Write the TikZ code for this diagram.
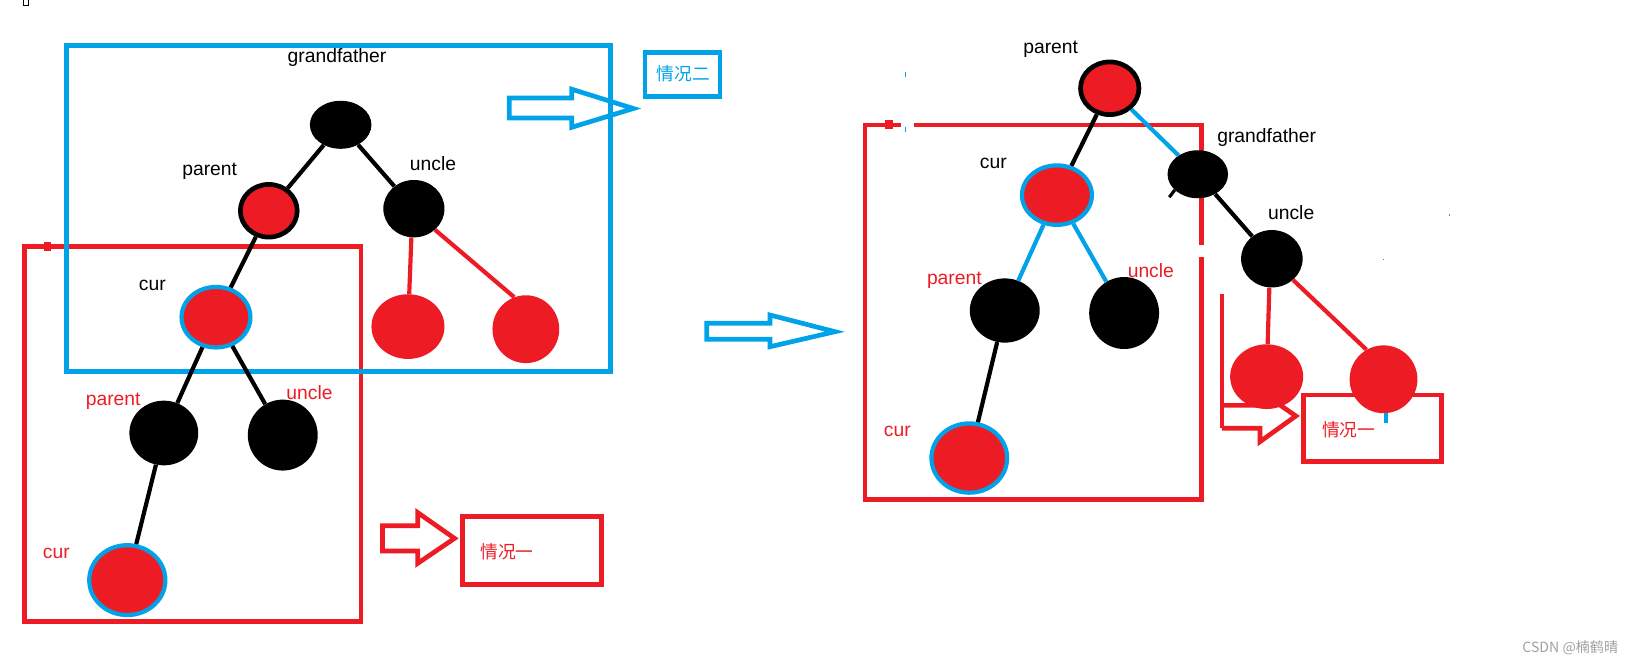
\documentclass[tikz,border=0pt]{standalone}
\usepackage{fontspec}
\setmainfont{Liberation Sans}
\newfontfamily\cjk{Noto Sans CJK SC}
\usetikzlibrary{shapes.geometric}
\definecolor{pred}{HTML}{ED1C24}
\definecolor{pblue}{HTML}{00A2E8}
\definecolor{wmgray}{HTML}{A0A0A0}
\begin{document}
\begin{tikzpicture}[x=1pt,y=-1pt,
  lbl/.style={inner sep=0pt, font=\fontsize{18.5}{20}\selectfont},
  cjklbl/.style={inner sep=0pt, font=\cjk\fontsize{17}{19}\selectfont},
  bk/.style={ellipse, fill=black, inner sep=0pt},
  rd/.style={ellipse, fill=pred, inner sep=0pt},
  rdk/.style={ellipse, fill=pred, draw=black, line width=4.5pt, inner sep=0pt},
  rdb/.style={ellipse, fill=pred, draw=pblue, line width=4pt, inner sep=0pt},
  bedge/.style={line width=4pt, black},
  redge/.style={line width=4pt, pred},
  uedge/.style={line width=4pt, pblue},
  rbox/.style={line width=4.5pt, pred},
  ubox/.style={line width=4.5pt, pblue},
]
\useasboundingbox (0,0) rectangle (1568,635);

% tiny glyph top-left
\draw[line width=1pt] (22.5,-1) rectangle (27.5,5.5);

% ---------- left part: boxes and arrows ----------
\draw[rbox] (23.3,236.4) rectangle (346,595.8);
\fill[pred] (42.5,232.2) rectangle (48.6,240.3);
\fill[pred] (70.3,234.5) rectangle (76.7,238.5);
\draw[ubox] (63.8,43.8) rectangle (585.2,356.2);

\draw[ubox, line join=miter] (488,94) -- (548,94) -- (548,85.5) -- (607,104) -- (548,122) -- (548,113) -- (488,113) -- cycle;
\draw[ubox] (618.3,50.5) rectangle (690,92.7);
\node[cjklbl, text=pblue] (q2) at (655,71) {情况二};

\draw[rbox, line join=miter] (366.6,503.8) -- (400.4,503.8) -- (400.4,491.3) -- (435.6,516) -- (400.4,539.9) -- (400.4,528) -- (366.6,528) -- cycle;
\draw[rbox] (443.6,495) rectangle (576.5,560);
\node[cjklbl, text=pred] (q1a) at (486,529) {情况一};

% middle arrow
\draw[ubox, line join=miter] (677.3,309.9) -- (738,309.9) -- (738,301.9) -- (800.3,317.9) -- (738,332.3) -- (738,325.2) -- (677.3,325.2) -- cycle;

% ---------- left tree ----------
\node[bk, minimum width=59pt, minimum height=46pt] (gf1) at (326.5,119.6) {};
\node[rdk, minimum width=54.5pt, minimum height=50.5pt] (p1) at (257.6,202) {};
\node[bk, minimum width=58.6pt, minimum height=55pt] (u1) at (396.7,200) {};
\node[rdb, minimum width=66pt, minimum height=58pt] (c1) at (207,304) {};
\node[rd, minimum width=70pt, minimum height=62pt] (uc1L) at (391,313) {};
\node[rd, minimum width=64pt, minimum height=65pt] (uc1R) at (504,315.5) {};
\node[bk, minimum width=66pt, minimum height=62pt] (p2) at (157,415) {};
\node[bk, minimum width=67pt, minimum height=68pt] (u2) at (271,417) {};
\node[rdb, minimum width=73pt, minimum height=67pt] (c2) at (122,556) {};

\draw[bedge] (gf1) -- (p1);
\draw[bedge] (gf1) -- (u1);
\draw[bedge] (p1) -- (c1);
\draw[redge] (u1.-95) -- (uc1L);
\draw[redge] (u1.-45) -- (uc1R.110);
\draw[bedge] (c1) -- (p2);
\draw[bedge] (c1) -- (u2);
\draw[bedge] (p2) -- (c2);

\node[lbl] (t1) at (323,55) {grandfather};
\node[lbl] (t2) at (201,164) {parent};
\node[lbl] (t3) at (415,157) {uncle};
\node[lbl] (t4) at (146,274) {cur};
\node[lbl, text=pred] (t5) at (108.5,385) {parent};
\node[lbl, text=pred] (t6) at (296.6,376) {uncle};
\node[lbl, text=pred] (t7) at (54,530) {cur};

% ---------- right part: boxes ----------
\draw[rbox] (864,119.8) -- (829,119.8) -- (829,478.6) -- (1151.7,478.6) -- (1151.7,246.6);
\draw[rbox] (1151.7,234.8) -- (1151.7,119.8) -- (876,119.8);
\fill[pred] (848,115) rectangle (856,123.6);
\draw[pblue, line width=1.5pt] (868,68.7) -- (868,73.5);
\draw[pblue, line width=1.5pt] (868,121.4) -- (868,126.2);

\draw[line width=4pt, pred] (1171,282) -- (1171,410.5);
\draw[rbox, line join=miter] (1171,388.5) -- (1207.6,388.5) -- (1207.6,375) -- (1242,398.7) -- (1207.6,423.3) -- (1207.6,410.5) -- (1171,410.5);
\draw[rbox] (1249,378.6) rectangle (1381.7,442.5);
\node[cjklbl, text=pred] (q1b) at (1292.6,411.5) {情况一};

% ---------- right tree ----------
\node[rdk, minimum width=56pt, minimum height=50.5pt] (p3) at (1063.6,84.6) {};
\node[rdb, minimum width=67pt, minimum height=57pt] (c3) at (1013,187) {};
\node[bk, minimum width=58pt, minimum height=46pt] (gf3) at (1148,167) {};
\node[bk, minimum width=59pt, minimum height=55pt] (u3) at (1219,248) {};
\node[rd, minimum width=70pt, minimum height=62pt] (uc3L) at (1214,361) {};
\node[rd, minimum width=65pt, minimum height=65pt] (uc3R) at (1326,363.5) {};
\node[bk, minimum width=67pt, minimum height=61.6pt] (p4) at (963,297.6) {};
\node[bk, minimum width=67pt, minimum height=69pt] (u4) at (1077.4,300) {};
\node[rdb, minimum width=72.6pt, minimum height=66.4pt] (c4) at (929,439) {};

\draw[line width=3pt] (1126,182) -- (1120.7,189);
\draw[bedge] (p3) -- (c3);
\draw[uedge] (p3) -- (gf3);
\draw[bedge] (gf3) -- (u3);
\draw[redge] (u3.-95) -- (uc3L);
\draw[redge] (u3.-45) -- (uc3R.120);
\draw[uedge] (c3) -- (p4);
\draw[uedge] (c3) -- (u4);
\draw[bedge] (p4) -- (c4);
\fill[pblue] (1326,396) rectangle (1330,405.7);
\fill[pblue] (1388.3,205.2) rectangle (1389.7,206.6);
\fill[pblue] (1325.1,247.8) rectangle (1326.5,249.2);

\node[lbl] (t8) at (1007,47) {parent};
\node[lbl] (t9) at (952,157) {cur};
\node[lbl] (t10) at (1214,132) {grandfather};
\node[lbl] (t11) at (1237.5,204) {uncle};
\node[lbl, text=pred] (t12) at (914.7,269) {parent};
\node[lbl, text=pred] (t13) at (1103,259.5) {uncle};
\node[lbl, text=pred] (t14) at (860,413) {cur};

\node[inner sep=0pt, font=\cjk\fontsize{13.5}{15}\selectfont, text=wmgray] (wm) at (1505,621) {CSDN @楠鹤晴};
\end{tikzpicture}
\end{document}
